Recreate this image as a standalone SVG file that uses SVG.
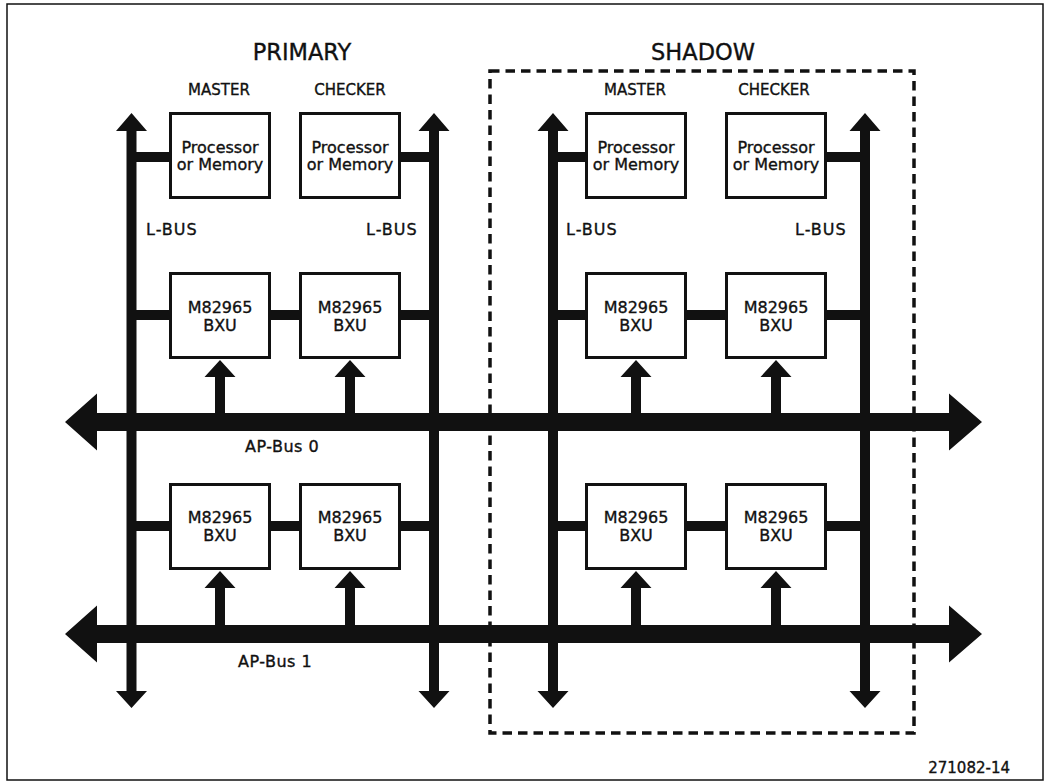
<svg xmlns="http://www.w3.org/2000/svg" width="1046" height="783" viewBox="0 0 1046 783">
<style>
text{font-family:"DejaVu Sans","Liberation Sans",sans-serif;fill:#111;stroke:#111;stroke-width:0.35}
.box{fill:#fff;stroke:#111;stroke-width:3}
.bus{fill:#111}
.t16{font-size:16px;text-anchor:middle}
.lbl{font-size:15px;text-anchor:middle}
.bl{font-size:16px;letter-spacing:1px}
.title{font-size:22.5px;text-anchor:middle}
</style>
<rect x="0" y="0" width="1046" height="783" fill="#fff"/>
<rect x="7" y="4" width="1036" height="776" fill="none" stroke="#111" stroke-width="1.5"/>
<rect id="shadow-region" x="490" y="71" width="424" height="662" fill="none" stroke="#111" stroke-width="3.5" stroke-dasharray="9.5 6"/>
<g id="titles">
<text class="title" x="302" y="60">PRIMARY</text>
<text class="title" x="703" y="60">SHADOW</text>
<text class="lbl" x="219" y="95">MASTER</text>
<text class="lbl" x="350" y="95">CHECKER</text>
<text class="lbl" x="635" y="95">MASTER</text>
<text class="lbl" x="774" y="95">CHECKER</text>
<text class="bl" x="146" y="235">L-BUS</text>
<text class="bl" x="366" y="235">L-BUS</text>
<text class="bl" x="566" y="235">L-BUS</text>
<text class="bl" x="795" y="235">L-BUS</text>
<text x="245" y="452" style="font-size:16px;letter-spacing:0.5px">AP-Bus 0</text>
<text x="238" y="667" style="font-size:16px;letter-spacing:0.5px">AP-Bus 1</text>
<text x="1010" y="773" style="font-size:15px;text-anchor:end">271082-14</text>
</g>
<g id="connectors" class="bus">
<path d="M131.5,113 L147,131 L136.5,131 L136.5,691 L147,691 L131.5,708 L116,691 L126.5,691 L126.5,131 L116,131 Z"/>
<path d="M434,113 L449.5,131 L439,131 L439,691 L449.5,691 L434,708 L418.5,691 L429,691 L429,131 L418.5,131 Z"/>
<path d="M553,113 L568.5,131 L558,131 L558,691 L568.5,691 L553,708 L537.5,691 L548,691 L548,131 L537.5,131 Z"/>
<path d="M865,113 L880.5,131 L870,131 L870,691 L880.5,691 L865,708 L849.5,691 L860,691 L860,131 L849.5,131 Z"/>
<path d="M65,422 L97,393.5 L97,413 L949,413 L949,393.5 L982,422 L949,450.5 L949,431 L97,431 L97,450.5 Z"/>
<path d="M65,634 L97,605.5 L97,625 L949,625 L949,605.5 L982,634 L949,662.5 L949,643 L97,643 L97,662.5 Z"/>
<path d="M220,360 L235.5,377 L225,377 L225,414 L215,414 L215,377 L204.5,377 Z"/>
<path d="M350,360 L365.5,377 L355,377 L355,414 L345,414 L345,377 L334.5,377 Z"/>
<path d="M636,360 L651.5,377 L641,377 L641,414 L631,414 L631,377 L620.5,377 Z"/>
<path d="M776,360 L791.5,377 L781,377 L781,414 L771,414 L771,377 L760.5,377 Z"/>
<path d="M220,571 L235.5,588 L225,588 L225,626 L215,626 L215,588 L204.5,588 Z"/>
<path d="M350,571 L365.5,588 L355,588 L355,626 L345,626 L345,588 L334.5,588 Z"/>
<path d="M636,571 L651.5,588 L641,588 L641,626 L631,626 L631,588 L620.5,588 Z"/>
<path d="M776,571 L791.5,588 L781,588 L781,626 L771,626 L771,588 L760.5,588 Z"/>
<rect x="131" y="152" width="40" height="10"/>
<rect x="399" y="152" width="36" height="10"/>
<rect x="553" y="152" width="35" height="10"/>
<rect x="824" y="152" width="41" height="10"/>
<rect x="131" y="310" width="40" height="10"/>
<rect x="269" y="310" width="32" height="10"/>
<rect x="399" y="310" width="36" height="10"/>
<rect x="553" y="310" width="35" height="10"/>
<rect x="684" y="310" width="44" height="10"/>
<rect x="824" y="310" width="41" height="10"/>
<rect x="131" y="521" width="40" height="10"/>
<rect x="269" y="521" width="32" height="10"/>
<rect x="399" y="521" width="36" height="10"/>
<rect x="553" y="521" width="35" height="10"/>
<rect x="684" y="521" width="44" height="10"/>
<rect x="824" y="521" width="41" height="10"/>
</g>
<g id="p-master-proc"><rect class="box" x="170.5" y="113.5" width="99" height="84"/><text class="t16" x="220" y="153">Processor</text><text class="t16" x="220" y="170">or Memory</text></g>
<g id="p-checker-proc"><rect class="box" x="300.5" y="113.5" width="99" height="84"/><text class="t16" x="350" y="153">Processor</text><text class="t16" x="350" y="170">or Memory</text></g>
<g id="s-master-proc"><rect class="box" x="586.5" y="113.5" width="99" height="84"/><text class="t16" x="636" y="153">Processor</text><text class="t16" x="636" y="170">or Memory</text></g>
<g id="s-checker-proc"><rect class="box" x="726.5" y="113.5" width="99" height="84"/><text class="t16" x="776" y="153">Processor</text><text class="t16" x="776" y="170">or Memory</text></g>
<g id="p-bxu-1a"><rect class="box" x="170.5" y="273.5" width="99" height="84"/><text class="t16" x="220" y="313">M82965</text><text class="t16" x="220" y="331">BXU</text></g>
<g id="p-bxu-1b"><rect class="box" x="300.5" y="273.5" width="99" height="84"/><text class="t16" x="350" y="313">M82965</text><text class="t16" x="350" y="331">BXU</text></g>
<g id="s-bxu-1a"><rect class="box" x="586.5" y="273.5" width="99" height="84"/><text class="t16" x="636" y="313">M82965</text><text class="t16" x="636" y="331">BXU</text></g>
<g id="s-bxu-1b"><rect class="box" x="726.5" y="273.5" width="99" height="84"/><text class="t16" x="776" y="313">M82965</text><text class="t16" x="776" y="331">BXU</text></g>
<g id="p-bxu-2a"><rect class="box" x="170.5" y="484.5" width="99" height="84"/><text class="t16" x="220" y="523">M82965</text><text class="t16" x="220" y="541">BXU</text></g>
<g id="p-bxu-2b"><rect class="box" x="300.5" y="484.5" width="99" height="84"/><text class="t16" x="350" y="523">M82965</text><text class="t16" x="350" y="541">BXU</text></g>
<g id="s-bxu-2a"><rect class="box" x="586.5" y="484.5" width="99" height="84"/><text class="t16" x="636" y="523">M82965</text><text class="t16" x="636" y="541">BXU</text></g>
<g id="s-bxu-2b"><rect class="box" x="726.5" y="484.5" width="99" height="84"/><text class="t16" x="776" y="523">M82965</text><text class="t16" x="776" y="541">BXU</text></g>
</svg>
